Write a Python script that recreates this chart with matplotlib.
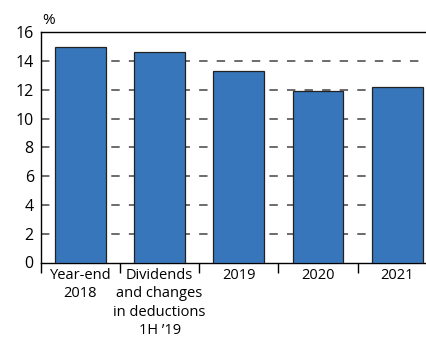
import numpy as np
import matplotlib
matplotlib.use("Agg")
import matplotlib.pyplot as plt

# data
categories = ["Year-end\n2018", "Dividends\nand changes\nin deductions\n1H \u201919", "2019", "2020", "2021"]
values = [15.0, 14.6, 13.3, 11.95, 12.2]
y_ticks = [0, 2, 4, 6, 8, 10, 12, 14, 16]

plt.rcParams['font.family'] = ['Open Sans', 'DejaVu Sans']

fig = plt.figure(figsize=(4.26, 3.38), dpi=100)
ax = fig.add_axes([40.7 / 426, 75.5 / 338, 396.3 / 426, 230.2 / 338])

x = np.arange(len(categories))
ax.bar(x, values, width=0.64, color="#3776ba", edgecolor="#222222", linewidth=0.9, zorder=3)

# dashed grid
for v in y_ticks[1:-1]:
    ax.axhline(v, color="#444444", lw=1.1, linestyle=(0, (5.5, 6)), zorder=1)

ax.set_xlim(-0.5, len(categories) - 0.5)
ax.set_ylim(0, 16)
ax.set_yticks(y_ticks)
ax.set_xticks(x)
ax.set_xticklabels(categories, fontsize=10.5, linespacing=1.3)
ax.set_xticks(np.arange(len(categories) + 1) - 0.5, minor=True)
ax.tick_params(axis="x", which="major", length=0, pad=4)
ax.tick_params(axis="x", which="minor", length=7, width=1, direction="out", color="black")
ax.tick_params(axis="y", length=0, pad=5, labelsize=11.5)

for s in ["left", "bottom", "top"]:
    ax.spines[s].set_linewidth(1.0)
    ax.spines[s].set_color("black")
ax.spines["right"].set_visible(False)

fig.text(49 / 426, 1 - 20 / 338, "%", fontsize=11, ha="center", va="center")

fig.savefig("out.png", dpi=100)
